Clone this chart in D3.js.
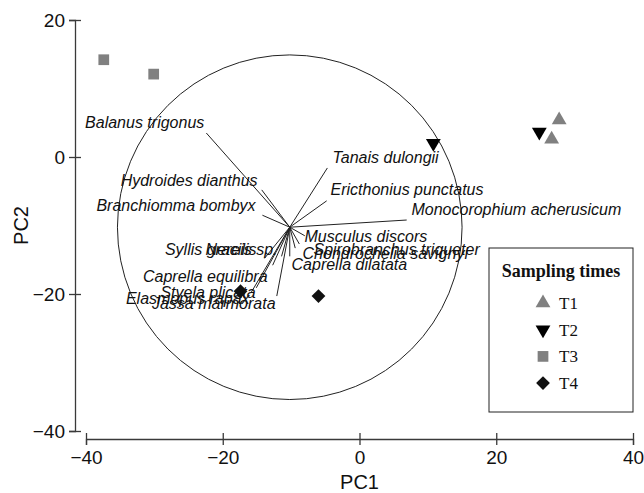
<!DOCTYPE html>
<html>
  <head>
    <meta charset="utf-8">
    <title>PCA biplot</title>
    <style>
      body { margin: 0; background: #fff; }
      svg { display: block; }
    </style>
  </head>
  <body>
    <script src="https://d3js.org/d3.v7.min.js"></script>
    <script type="text/javascript">
      // sampling times and their scores on PC1 / PC2
      var groups = ['T1', 'T2', 'T3', 'T4'];
      var pc1Scores = [29.2, 28.1, 10.8, 26.3, -37.4, -30.1, -17.4, -6.0];
      var pc2Scores = [5.4, 2.6, 2.0, 3.65, 14.2, 12.1, -19.6, -20.3];
      var scoreGroup = ['T1', 'T1', 'T2', 'T2', 'T3', 'T3', 'T4', 'T4'];

      // species vectors (tip in PC space) and where their names sit
      var species = ['Balanus trigonus', 'Tanais dulongii', 'Hydroides dianthus', 'Ericthonius punctatus',
                     'Branchiomma bombyx', 'Monocorophium acherusicum', 'Musculus discors', 'Spirobranchus triqueter',
                     'Chondrochelia savignyi', 'Caprella dilatata', 'Nereis sp.', 'Syllis gracilis',
                     'Caprella equilibra', 'Styela plicata', 'Elasmopus rapax', 'Jassa marmorata'];
      var tipPC1 = [-22.4, -4.7, -14.3, -4.8, -14.2, 6.9, -8.8, -8.0, -9.4, -10.2, -11.4, -13.9, -12.7, -15.1, -15.8, -12.1];
      var tipPC2 = [3.5, -1.6, -4.8, -6.4, -8.5, -9.2, -12.7, -11.5, -13.3, -14.5, -14.5, -14.8, -15.8, -19.1, -19.7, -20.3];
      var namePC1 = [-22.7, -3.95, -14.9, -4.24, -15.2, 7.6, -8.04, -6.73, -8.33, -9.94, -11.99, -15.06, -13.45, -15.2, -16.08, -12.28];
      var namePC2 = [5.1, 0, -3.36, -4.67, -7.0, -7.6, -11.54, -13.44, -14.02, -15.63, -13.44, -13.44, -17.38, -19.72, -20.6, -21.33];

      // correlation circle
      var circleCentre = [-10.2, -10.25];
      var circleRadius = 25.2;

      var xTicks = [-40, -20, 0, 20, 40];
      var yTicks = [-40, -20, 0, 20];

      var w = 644;
      var h = 493;
      var axisColor = '#3a3a3a';

      var svg = d3.select('body').append('svg').attr('width', w).attr('height', h);

      var xScale = d3.scaleLinear().domain([-40, 40]).range([86, 633]);
      var yScale = d3.scaleLinear().domain([-40, 20]).range([431, 20]);

      // axes, ticks crossing the line on both sides
      var xAxis = svg.append('g')
        .attr('transform', 'translate(0,439)')
        .call(d3.axisBottom(xScale).tickValues(xTicks).tickSizeOuter(0).tickSize(6).tickPadding(6));
      var yAxis = svg.append('g')
        .attr('transform', 'translate(75,0)')
        .call(d3.axisLeft(yScale).tickValues(yTicks).tickSizeOuter(0).tickSize(6).tickPadding(4));

      xAxis.selectAll('.tick line').attr('y1', -6).attr('y2', 6);
      yAxis.selectAll('.tick line').attr('x1', -6).attr('x2', 6);
      [xAxis, yAxis].forEach(function(a) {
        a.select('.domain').attr('stroke', axisColor).attr('stroke-width', 1.3);
        a.selectAll('.tick line').attr('stroke', axisColor).attr('stroke-width', 1.3);
        a.selectAll('.tick text')
          .attr('fill', '#111')
          .attr('font-family', 'Liberation Sans, Arial, sans-serif')
          .attr('font-size', '19px');
      });

      svg.append('text')
        .text('PC1')
        .attr('x', xScale(0))
        .attr('y', 482)
        .attr('dy', '0.35em')
        .attr('text-anchor', 'middle')
        .attr('font-family', 'Liberation Sans, Arial, sans-serif')
        .attr('font-size', '20px')
        .attr('fill', '#111');

      svg.append('text')
        .text('PC2')
        .attr('transform', 'translate(21,' + yScale(-10) + ') rotate(-90)')
        .attr('dy', '0.35em')
        .attr('text-anchor', 'middle')
        .attr('font-family', 'Liberation Sans, Arial, sans-serif')
        .attr('font-size', '20px')
        .attr('fill', '#111');

      // correlation circle
      svg.append('circle')
        .attr('cx', xScale(circleCentre[0]))
        .attr('cy', yScale(circleCentre[1]))
        .attr('r', xScale(circleCentre[0] + circleRadius) - xScale(circleCentre[0]))
        .attr('fill', 'none')
        .attr('stroke', '#222')
        .attr('stroke-width', 1);

      var vectors = species.map(function(s, i) {
        return { name: s, x: tipPC1[i], y: tipPC2[i], lx: namePC1[i], ly: namePC2[i] };
      });

      svg.selectAll('line.vec')
        .data(vectors)
        .enter()
        .append('line')
        .attr('class', 'vec')
        .attr('x1', xScale(circleCentre[0]))
        .attr('y1', yScale(circleCentre[1]))
        .attr('x2', function(d) { return xScale(d.x); })
        .attr('y2', function(d) { return yScale(d.y); })
        .attr('stroke', '#222')
        .attr('stroke-width', 1);

      svg.selectAll('text.sp')
        .data(vectors)
        .enter()
        .append('text')
        .attr('class', 'sp')
        .text(function(d) { return d.name; })
        .attr('x', function(d) { return xScale(d.lx); })
        .attr('y', function(d) { return yScale(d.ly); })
        .attr('dy', '0.35em')
        .attr('text-anchor', function(d) { return d.lx >= circleCentre[0] ? 'start' : 'end'; })
        .attr('font-family', 'Liberation Sans, Arial, sans-serif')
        .attr('font-style', 'italic')
        .attr('font-size', '16px')
        .attr('fill', '#111');

      // symbols for each sampling time
      var symType = { T1: d3.symbolTriangle, T2: d3.symbolTriangle, T3: d3.symbolSquare, T4: d3.symbolSquare };
      var symSize = { T1: 95, T2: 95, T3: 115, T4: 95 };
      var symRot = { T1: 0, T2: 180, T3: 0, T4: 45 };
      var symFill = { T1: '#808080', T2: '#000', T3: '#808080', T4: '#111' };

      function symPath(g) {
        return d3.symbol().type(symType[g]).size(symSize[g])();
      }

      var scores = pc1Scores.map(function(v, i) {
        return { x: v, y: pc2Scores[i], g: scoreGroup[i] };
      });

      svg.selectAll('path.pt')
        .data(scores)
        .enter()
        .append('path')
        .attr('class', 'pt')
        .attr('d', function(d) { return symPath(d.g); })
        .attr('transform', function(d) {
          return 'translate(' + xScale(d.x) + ',' + yScale(d.y) + ') rotate(' + symRot[d.g] + ')';
        })
        .attr('fill', function(d) { return symFill[d.g]; });

      // legend
      var legend = svg.append('g');
      legend.append('rect')
        .attr('x', 489).attr('y', 248)
        .attr('width', 144).attr('height', 164)
        .attr('fill', '#fff')
        .attr('stroke', '#222')
        .attr('stroke-width', 1);
      legend.append('text')
        .text('Sampling times')
        .attr('x', 561).attr('y', 271)
        .attr('dy', '0.35em')
        .attr('text-anchor', 'middle')
        .attr('font-family', 'Liberation Serif, Times New Roman, serif')
        .attr('font-weight', 'bold')
        .attr('font-size', '18px')
        .attr('fill', '#111');

      var item = legend.selectAll('g.item')
        .data(groups)
        .enter()
        .append('g')
        .attr('class', 'item')
        .attr('transform', function(d, i) { return 'translate(543,' + (303 + i * 26.7) + ')'; });
      item.append('path')
        .attr('d', function(d) { return symPath(d); })
        .attr('transform', function(d) { return 'rotate(' + symRot[d] + ')'; })
        .attr('fill', function(d) { return symFill[d]; });
      item.append('text')
        .text(function(d) { return d; })
        .attr('x', 16)
        .attr('dy', '0.35em')
        .attr('font-family', 'Liberation Serif, Times New Roman, serif')
        .attr('font-size', '17px')
        .attr('fill', '#111');
    </script>
  </body>
</html>
